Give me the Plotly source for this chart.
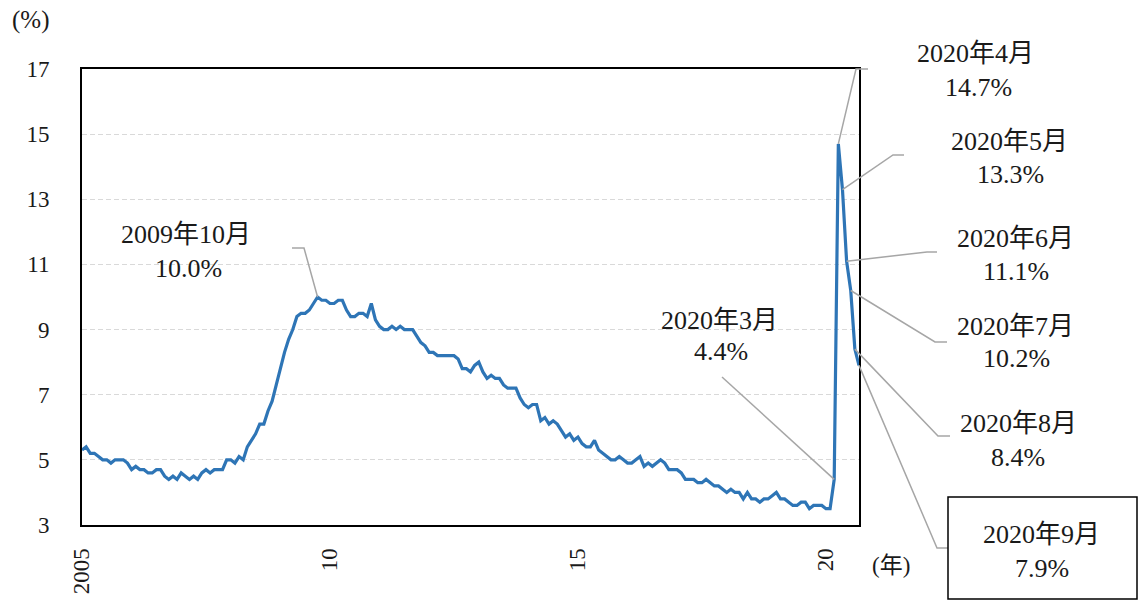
import plotly.graph_objects as go

# US unemployment rate, monthly (%), Jan 2005 - Sep 2020
y2005 = [5.3, 5.4, 5.2, 5.2, 5.1, 5.0, 5.0, 4.9, 5.0, 5.0, 5.0, 4.9]
y2006 = [4.7, 4.8, 4.7, 4.7, 4.6, 4.6, 4.7, 4.7, 4.5, 4.4, 4.5, 4.4]
y2007 = [4.6, 4.5, 4.4, 4.5, 4.4, 4.6, 4.7, 4.6, 4.7, 4.7, 4.7, 5.0]
y2008 = [5.0, 4.9, 5.1, 5.0, 5.4, 5.6, 5.8, 6.1, 6.1, 6.5, 6.8, 7.3]
y2009 = [7.8, 8.3, 8.7, 9.0, 9.4, 9.5, 9.5, 9.6, 9.8, 10.0, 9.9, 9.9]
y2010 = [9.8, 9.8, 9.9, 9.9, 9.6, 9.4, 9.4, 9.5, 9.5, 9.4, 9.8, 9.3]
y2011 = [9.1, 9.0, 9.0, 9.1, 9.0, 9.1, 9.0, 9.0, 9.0, 8.8, 8.6, 8.5]
y2012 = [8.3, 8.3, 8.2, 8.2, 8.2, 8.2, 8.2, 8.1, 7.8, 7.8, 7.7, 7.9]
y2013 = [8.0, 7.7, 7.5, 7.6, 7.5, 7.5, 7.3, 7.2, 7.2, 7.2, 6.9, 6.7]
y2014 = [6.6, 6.7, 6.7, 6.2, 6.3, 6.1, 6.2, 6.1, 5.9, 5.7, 5.8, 5.6]
y2015 = [5.7, 5.5, 5.4, 5.4, 5.6, 5.3, 5.2, 5.1, 5.0, 5.0, 5.1, 5.0]
y2016 = [4.9, 4.9, 5.0, 5.1, 4.8, 4.9, 4.8, 4.9, 5.0, 4.9, 4.7, 4.7]
y2017 = [4.7, 4.6, 4.4, 4.4, 4.4, 4.3, 4.3, 4.4, 4.3, 4.2, 4.2, 4.1]
y2018 = [4.0, 4.1, 4.0, 4.0, 3.8, 4.0, 3.8, 3.8, 3.7, 3.8, 3.8, 3.9]
y2019 = [4.0, 3.8, 3.8, 3.7, 3.6, 3.6, 3.7, 3.7, 3.5, 3.6, 3.6, 3.6]
y2020 = [3.5, 3.5, 4.4, 14.7, 13.3, 11.1, 10.2, 8.4, 7.9]

x_tickvals = [0, 60, 120, 180]
x_ticktext = ["2005", "10", "15", "20"]

# labelled points: (year, month)
label_points = [(2009, 10), (2020, 3), (2020, 4), (2020, 5), (2020, 6), (2020, 7), (2020, 8), (2020, 9)]

values = (y2005 + y2006 + y2007 + y2008 + y2009 + y2010 + y2011 + y2012 + y2013
          + y2014 + y2015 + y2016 + y2017 + y2018 + y2019 + y2020)
months = list(range(len(values)))

W, H = 1139, 601
L, R, T, B = 82, 280, 69, 76
PW, PH = W - L - R, H - T - B
XMIN, XMAX = 0, len(values) - 1
YMIN, YMAX = 3, 17

def px2paper(px, py):
    return (px - L) / PW, (H - B - py) / PH

def data2paper(xv, yv):
    return (xv - XMIN) / (XMAX - XMIN), (yv - YMIN) / (YMAX - YMIN)

FONT = "Liberation Serif, serif"
CJK = "Noto Sans CJK JP"
LEADER = "#A6A6A6"
TXT = "#1a1a1a"

def cjk(ch):
    return f"<span style='font-family:{CJK}'>{ch}</span>"

fig = go.Figure()
fig.add_trace(go.Scatter(x=months, y=values, mode="lines",
                         line=dict(color="#2E75B6", width=3.2), showlegend=False,
                         hoverinfo="skip"))

# label layout (pixels): line1 center, line2 center, elbow, horizontal end
label_layout = [
    ((186, 232), (188, 268), (304, 248), (292, 248)),
    ((719, 317), (721, 351), (722, 377), (722, 377)),
    ((976, 51), (978, 87), (856, 69), (868, 69)),
    ((1009, 138), (1011, 174), (893, 155), (904, 155)),
    ((1015, 235), (1016, 271), (927, 252), (937, 252)),
    ((1015, 323), (1016, 358), (935, 342), (947, 342)),
    ((1018, 420), (1018, 457), (938, 436), (950, 436)),
    ((1041, 531), (1042, 568), (937, 548), (948, 548)),
]

annotations = []
shapes = []
for (yr, mo), (c1, c2, elbow, hend) in zip(label_points, label_layout):
    idx = (yr - 2005) * 12 + (mo - 1)
    v = values[idx]
    t1 = f"{yr}{cjk('年')}{mo}{cjk('月')}"
    t2 = f"{v:.1f}%"
    for (cx, cy), t in ((c1, t1), (c2, t2)):
        ax_, ay_ = px2paper(cx, cy)
        annotations.append(dict(x=ax_, y=ay_, xref="paper", yref="paper", text=t,
                                showarrow=False, xanchor="center", yanchor="middle",
                                font=dict(family=FONT, size=26, color=TXT)))
    p0 = data2paper(idx, v)
    p1 = px2paper(*elbow)
    p2 = px2paper(*hend)
    path = f"M {p0[0]} {p0[1]} L {p1[0]} {p1[1]} L {p2[0]} {p2[1]}"
    shapes.append(dict(type="path", path=path, xref="paper", yref="paper",
                       line=dict(color=LEADER, width=1.5), layer="above"))

# box around the latest value
b0 = px2paper(948, 497)
b1 = px2paper(1137, 599)
shapes.append(dict(type="rect", xref="paper", yref="paper", x0=b0[0], y0=b0[1], x1=b1[0], y1=b1[1],
                   line=dict(color="black", width=1.5), layer="above"))

ux, uy = px2paper(30, 20)
annotations.append(dict(x=ux, y=uy, xref="paper", yref="paper", text="(%)", showarrow=False,
                        xanchor="center", yanchor="middle", font=dict(family=FONT, size=25, color=TXT)))
nx, ny = px2paper(891, 563)
annotations.append(dict(x=nx, y=ny, xref="paper", yref="paper", text="(" + cjk("年") + ")", showarrow=False,
                        xanchor="center", yanchor="middle", font=dict(family=FONT, size=23, color=TXT)))

fig.update_layout(
    width=W, height=H,
    margin=dict(l=L, r=R, t=T, b=B, autoexpand=False),
    paper_bgcolor="white", plot_bgcolor="white",
    annotations=annotations, shapes=shapes,
    font=dict(family=FONT, size=23, color=TXT),
)
fig.update_xaxes(range=[XMIN, XMAX], tickvals=x_tickvals, ticktext=x_ticktext,
                 tickangle=-90, showgrid=False, showline=True, mirror=True,
                 linecolor="black", linewidth=2, ticks="", ticklabelstandoff=12,
                 zeroline=False, tickfont=dict(family=FONT, size=23, color=TXT))
fig.update_yaxes(range=[YMIN, YMAX], tick0=3, dtick=2, showgrid=True,
                 gridcolor="#D9D9D9", griddash="5px,3px", gridwidth=1.3,
                 showline=True, mirror=True, linecolor="black", linewidth=2,
                 ticks="", ticklabelstandoff=26, zeroline=False,
                 tickfont=dict(family=FONT, size=23, color=TXT))

fig.write_html("out.html", config={"displayModeBar": False},
               post_script="document.body.style.margin='0';document.body.style.overflow='hidden';")
